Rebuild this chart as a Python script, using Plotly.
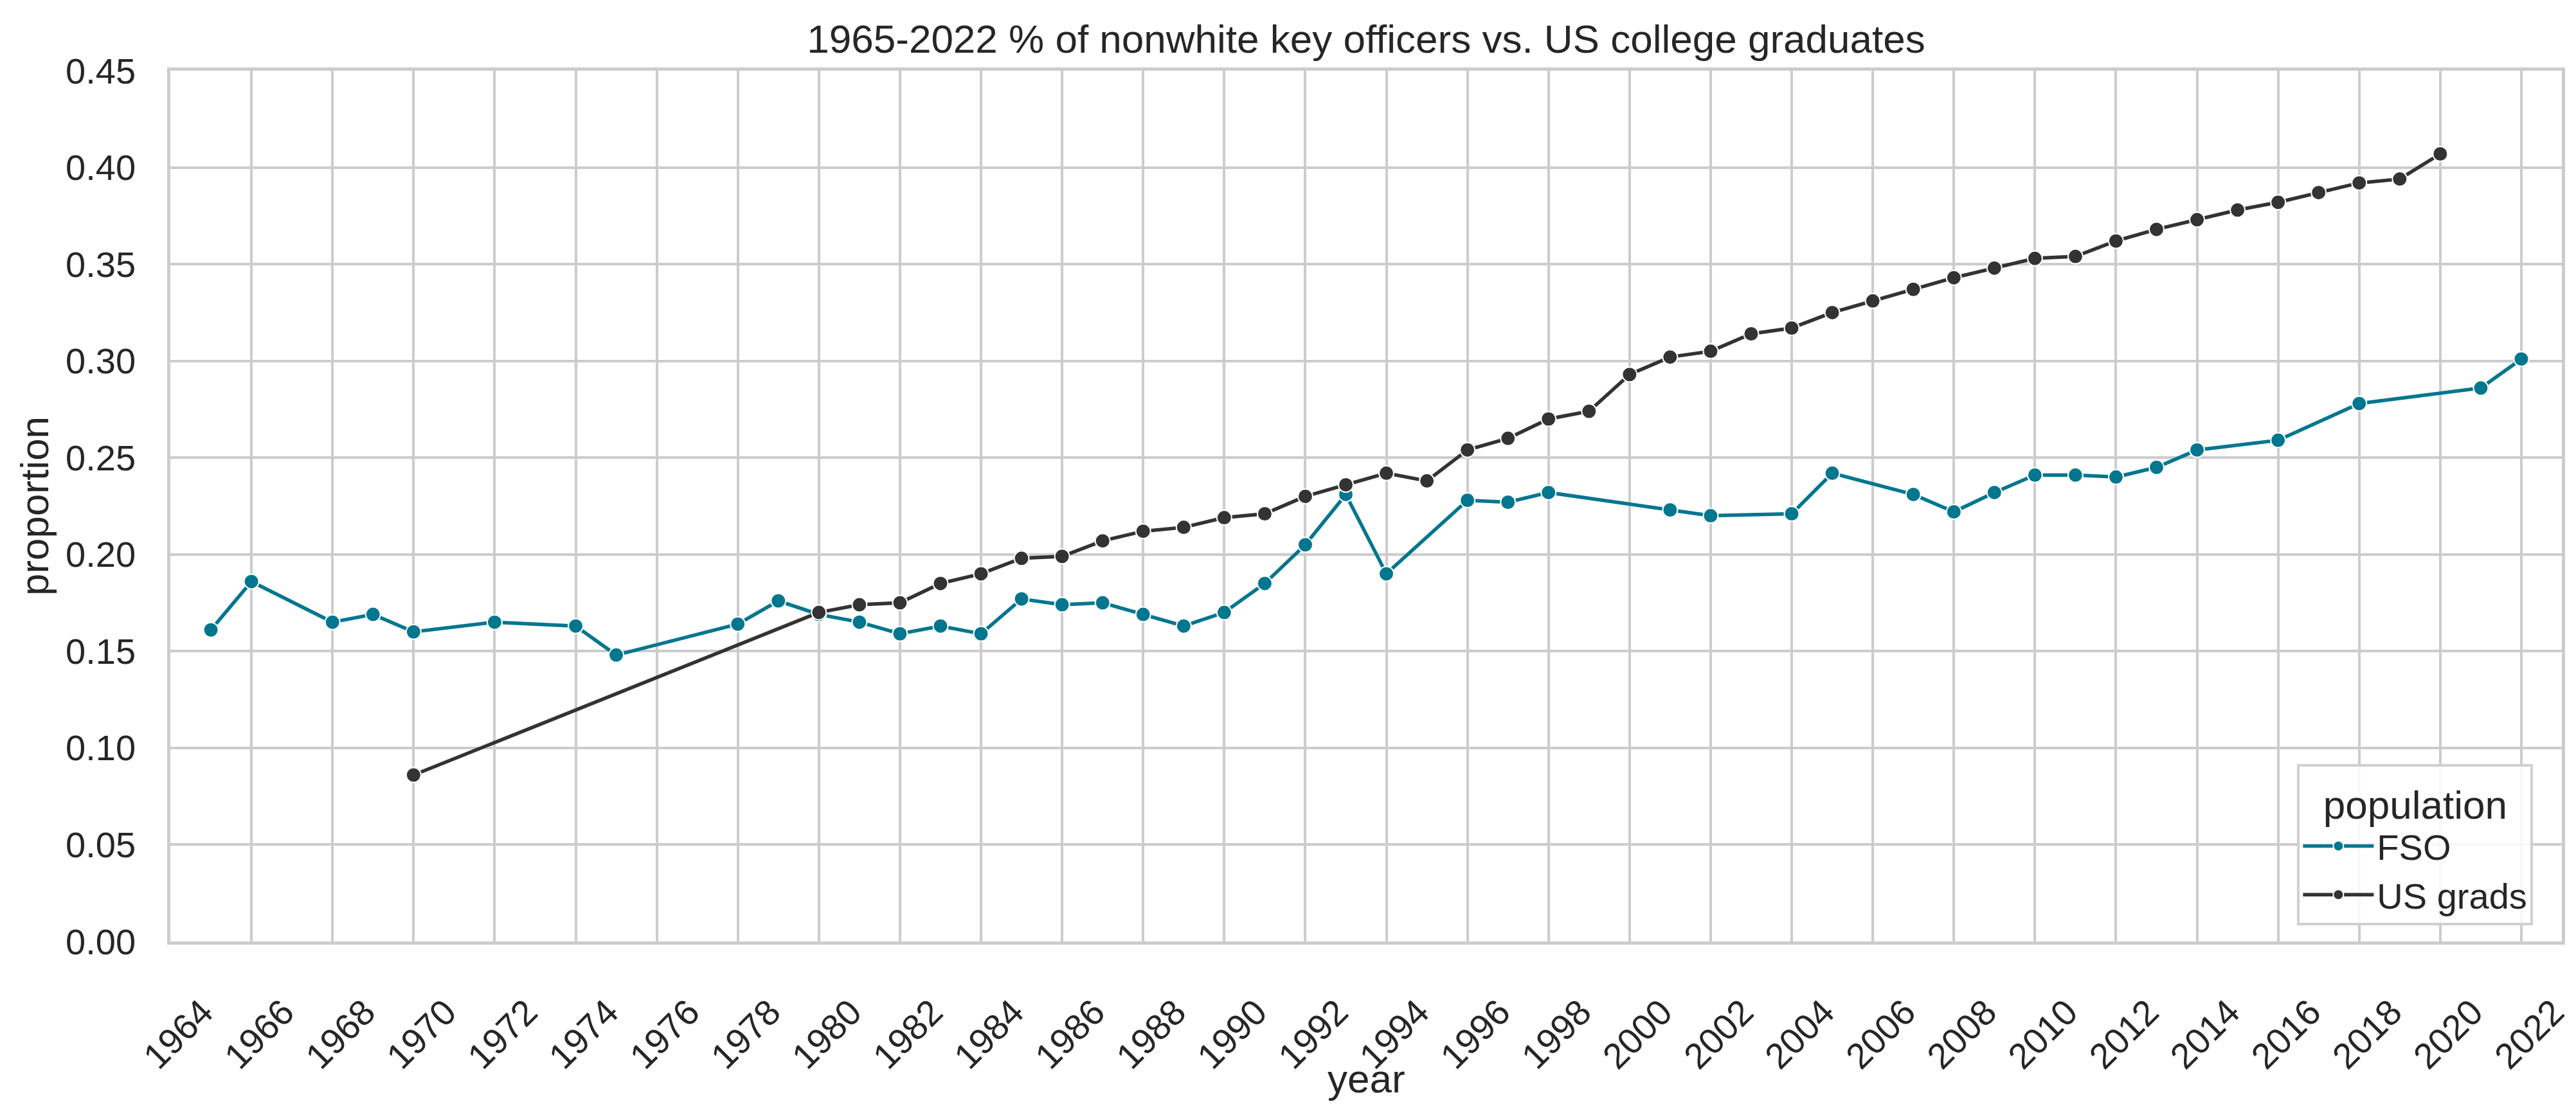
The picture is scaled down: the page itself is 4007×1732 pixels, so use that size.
import plotly.graph_objects as go

# ---- data ----
fso_years = [1965, 1966, 1968, 1969, 1970, 1972, 1974, 1975, 1978, 1979, 1980,
             1981, 1982, 1983, 1984, 1985, 1986, 1987, 1988, 1989, 1990, 1991,
             1992, 1993, 1994, 1996, 1997, 1998, 2001, 2002, 2004, 2005, 2007,
             2008, 2009, 2010, 2011, 2012, 2013, 2014, 2016, 2018, 2021, 2022]
fso_values = [0.161, 0.186, 0.165, 0.169, 0.160, 0.165, 0.163, 0.148, 0.164, 0.176, 0.169,
              0.165, 0.159, 0.163, 0.159, 0.177, 0.174, 0.175, 0.169, 0.163, 0.170, 0.185,
              0.205, 0.231, 0.190, 0.228, 0.227, 0.232, 0.223, 0.220, 0.221, 0.242, 0.231,
              0.222, 0.232, 0.241, 0.241, 0.240, 0.245, 0.254, 0.259, 0.278, 0.286, 0.301]

grad_years = [1970, 1980, 1981, 1982, 1983, 1984, 1985, 1986, 1987, 1988, 1989,
              1990, 1991, 1992, 1993, 1994, 1995, 1996, 1997, 1998, 1999, 2000,
              2001, 2002, 2003, 2004, 2005, 2006, 2007, 2008, 2009, 2010, 2011,
              2012, 2013, 2014, 2015, 2016, 2017, 2018, 2019, 2020]
grad_values = [0.086, 0.170, 0.174, 0.175, 0.185, 0.190, 0.198, 0.199, 0.207, 0.212, 0.214,
               0.219, 0.221, 0.230, 0.236, 0.242, 0.238, 0.254, 0.260, 0.270, 0.274, 0.293,
               0.302, 0.305, 0.314, 0.317, 0.325, 0.331, 0.337, 0.343, 0.348, 0.353, 0.354,
               0.362, 0.368, 0.373, 0.378, 0.382, 0.387, 0.392, 0.394, 0.407]

series_names = ["FSO", "US grads"]
x_tick_values = list(range(1964, 2023, 2))

TITLE = "1965-2022 % of nonwhite key officers vs. US college graduates"
X_LABEL = "year"
Y_LABEL = "proportion"
LEGEND_TITLE = "population"
FONT = "Liberation Sans, Arial, sans-serif"
TEXT = "#262626"
GRID = "#cccccc"
C_FSO = "#00768F"
C_GRAD = "#333333"
TICK_SIZE = 56
LABEL_SIZE = 62

fig = go.Figure()
fig.add_trace(go.Scatter(
    x=fso_years, y=fso_values, name=series_names[0], mode="lines+markers",
    line=dict(color=C_FSO, width=5.5),
    marker=dict(color=C_FSO, size=23, line=dict(color="white", width=2)),
))
fig.add_trace(go.Scatter(
    x=grad_years, y=grad_values, name=series_names[1], mode="lines+markers",
    line=dict(color=C_GRAD, width=5.5),
    marker=dict(color=C_GRAD, size=23, line=dict(color="white", width=2)),
))

W, H = 4007, 1732
PLOT_TOP, PLOT_BOTTOM = 102, 1457
fig.update_layout(
    width=W, height=H,
    margin=dict(l=257, r=30, t=PLOT_TOP, b=H - PLOT_BOTTOM, pad=0, autoexpand=False),
    paper_bgcolor="white", plot_bgcolor="white",
    font=dict(family=FONT, color=TEXT, size=TICK_SIZE),
    title=dict(text=TITLE, x=0.5, xref="paper", xanchor="center",
               y=1 - 52 / H, yref="container", yanchor="middle",
               font=dict(size=LABEL_SIZE, color=TEXT, family=FONT)),
    legend=dict(
        x=0.988, y=0.0185, xanchor="right", yanchor="bottom",
        bgcolor="rgba(255,255,255,0.85)", bordercolor="#d0d0d0", borderwidth=4,
        font=dict(size=TICK_SIZE, color=TEXT, family=FONT),
        title=dict(text=LEGEND_TITLE, side="top center",
                   font=dict(size=LABEL_SIZE, color=TEXT, family=FONT)),
        itemwidth=110,
    ),
    showlegend=True,
)
# x-axis label placed as a text annotation centred under the plot
fig.add_annotation(
    text=X_LABEL, xref="paper", x=0.5, xanchor="center",
    yref="paper", y=(PLOT_BOTTOM - 1670) / (PLOT_BOTTOM - PLOT_TOP), yanchor="middle",
    showarrow=False, font=dict(size=LABEL_SIZE, color=TEXT, family=FONT),
)
fig.update_xaxes(
    range=[1964, 2023], tickmode="array", tickvals=x_tick_values,
    ticktext=[str(v) for v in x_tick_values], tickangle=-45,
    showgrid=True, gridcolor=GRID, gridwidth=3.5, zeroline=False,
    showline=True, mirror=True, linecolor=GRID, linewidth=4.5,
    ticks="", ticklabelstandoff=50, ticklabelshift=50, automargin=False,
    tickfont=dict(size=TICK_SIZE, color=TEXT, family=FONT),
)
fig.update_yaxes(
    range=[0, 0.45], tick0=0, dtick=0.05, tickformat=".2f",
    showgrid=True, gridcolor=GRID, gridwidth=3.5, zeroline=False,
    showline=True, mirror=True, linecolor=GRID, linewidth=4.5,
    ticks="", ticklabelstandoff=38, automargin=False,
    tickfont=dict(size=TICK_SIZE, color=TEXT, family=FONT),
    title=dict(text=Y_LABEL, font=dict(size=LABEL_SIZE, color=TEXT, family=FONT), standoff=8),
)

fig.write_html("out.html")
